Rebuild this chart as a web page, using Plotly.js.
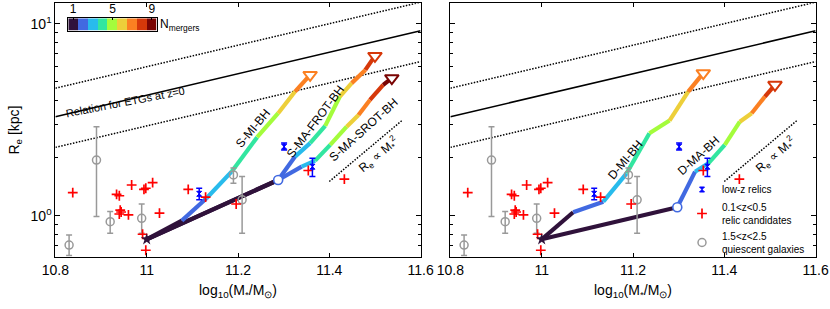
<!DOCTYPE html>
<html><head><meta charset="utf-8">
<script src="https://cdn.plot.ly/plotly-3.0.1.min.js"></script>
<style>html,body{margin:0;padding:0;background:#fff}#chart{width:830px;height:309px}</style>
</head><body><div id="chart"></div>
<script>
// ---- colours for merger number 1..9 ----
const mergerN = [1,2,3,4,5,6,7,8,9];
const mergerColors = ['#30123b','#4169e1','#28bbec','#32e6a0','#a4fc3c','#edcf3a','#fb8022','#d6380a','#7a0403'];

// ---- simulated tracks (log10 M*, Re kpc) ----
const smiX  = [11.0, 11.077, 11.131, 11.186, 11.242, 11.288, 11.325, 11.358];
const smiR  = [0.753, 0.942, 1.233, 1.696, 2.564, 3.420, 4.436, 5.420];
const frotX = [11.0, 11.288, 11.325, 11.358, 11.391, 11.423, 11.449, 11.479, 11.500];
const frotR = [0.753, 1.535, 2.032, 2.388, 2.938, 4.178, 4.909, 5.754, 6.808];
const srotX = [11.0, 11.288, 11.3395, 11.369, 11.402, 11.438, 11.464, 11.489, 11.518, 11.537];
const srotR = [0.753, 1.535, 1.801, 1.936, 2.339, 2.911, 3.350, 4.013, 4.808, 5.212];
const dmiX  = [11.0, 11.069, 11.135, 11.186, 11.236, 11.280, 11.321, 11.354];
const dmiR  = [0.753, 1.042, 1.183, 1.663, 2.692, 3.133, 4.436, 5.534];
const dmaX  = [11.0, 11.297, 11.336, 11.365, 11.401, 11.434, 11.460, 11.489, 11.511];
const dmaR  = [0.753, 1.107, 1.696, 1.875, 2.339, 3.090, 3.420, 4.178, 4.808];

// ---- reference relations ----
const etgX = [10.8, 11.6];
const etgR = [3.28, 9.20];
const etgUpR = [4.62, 12.97];
const etgLoR = [2.27, 6.36];
const m2X = [11.4, 11.561];
const m2R = [1.507, 3.16];

// ---- observations ----
const qgX  = [10.830, 10.890, 10.920, 10.989, 11.190, 11.209];
const qgR  = [0.703, 1.95, 0.93, 0.969, 1.63, 1.21];
const qgHi = [0.793, 2.91, 1.05, 1.15, 1.77, 1.60];
const qgLo = [0.62, 0.99, 0.81, 0.81, 1.476, 0.81];

const relX  = [11.115, 11.301, 11.363];
const relR  = [1.30, 2.29, 1.80];
const relHi = [1.39, 2.39, 1.99];
const relLo = [1.21, 2.20, 1.60];

const candX = [10.838, 10.934, 10.940, 10.967, 10.994, 10.998, 11.013, 10.942, 10.944, 10.940, 10.960, 11.028, 10.991, 10.998, 11.091, 11.129, 11.196, 11.354, 11.433];
const candR = [1.32, 1.29, 1.27, 1.445, 1.37, 1.39, 1.486, 1.07, 1.045, 1.02, 1.01, 1.03, 0.80, 0.66, 1.37, 1.25, 1.15, 1.72, 1.55];

const xTicks = [10.8, 11, 11.2, 11.4, 11.6];
const xTickText = ['10.8', '11', '11.2', '11.4', '11.6'];

const FONT = 'Liberation Sans, Arial, Helvetica, sans-serif';
const traces = [];

function refLines(xa, ya) {
  traces.push({x: etgX, y: etgUpR, xaxis: xa, yaxis: ya, mode: 'lines', line: {color: '#000', width: 1.5, dash: '1.5px,1.5px'}, showlegend: false, hoverinfo: 'skip'});
  traces.push({x: etgX, y: etgR, xaxis: xa, yaxis: ya, mode: 'lines', line: {color: '#000', width: 1.6}, showlegend: false, hoverinfo: 'skip'});
  traces.push({x: etgX, y: etgLoR, xaxis: xa, yaxis: ya, mode: 'lines', line: {color: '#000', width: 1.5, dash: '1.5px,1.5px'}, showlegend: false, hoverinfo: 'skip'});
  traces.push({x: m2X, y: m2R, xaxis: xa, yaxis: ya, mode: 'lines', line: {color: '#000', width: 1.5, dash: '1.5px,1.5px'}, showlegend: false, hoverinfo: 'skip'});
}

function trackSegments(X, R, xa, ya, pass) {
  for (let i = 1; i < X.length; i++) {
    if ((pass === 0 && i !== 1) || (pass === 1 && i === 1)) continue;
    traces.push({x: [X[i-1], X[i]], y: [R[i-1], R[i]], xaxis: xa, yaxis: ya, mode: 'lines',
      line: {color: mergerColors[i-1], width: 4.2}, showlegend: false, hoverinfo: 'skip'});
  }
}
function trackEnd(X, R, xa, ya, circle) {
  const n = X.length;
  traces.push({x: [X[n-1]], y: [R[n-1]], xaxis: xa, yaxis: ya, mode: 'markers',
    marker: {symbol: 'triangle-down', size: 12, color: '#fff', line: {color: mergerColors[n-2], width: 2}}, showlegend: false, hoverinfo: 'skip'});
  if (circle) {
    traces.push({x: [X[1]], y: [R[1]], xaxis: xa, yaxis: ya, mode: 'markers',
      marker: {symbol: 'circle', size: 9, color: '#fff', line: {color: mergerColors[1], width: 1.6}}, showlegend: false, hoverinfo: 'skip'});
  }
}

function observations(xa, ya, legend) {
  traces.push({x: qgX, y: qgR, xaxis: xa, yaxis: ya, mode: 'markers', name: '1.5&lt;z&lt;2.5<br>quiescent galaxies',
    marker: {symbol: 'circle-open', size: 8, color: '#999', line: {width: 1.5}},
    error_y: {type: 'data', symmetric: false, array: qgHi.map((h, i) => h - qgR[i]), arrayminus: qgLo.map((l, i) => qgR[i] - l), color: '#999', thickness: 1.5, width: 3},
    showlegend: legend, legendrank: 3});
  traces.push({x: candX, y: candR, xaxis: xa, yaxis: ya, mode: 'markers', name: '0.1&lt;z&lt;0.5<br>relic candidates',
    marker: {symbol: 'cross-thin-open', size: 7, color: '#ff0000', line: {width: 1.7, color: '#ff0000'}},
    showlegend: legend, legendrank: 2});
  traces.push({x: relX, y: relR, xaxis: xa, yaxis: ya, mode: 'markers', name: 'low-z relics',
    marker: {symbol: 'hourglass', size: 5, color: '#0000ff', line: {width: 1, color: '#0000ff'}},
    error_y: {type: 'data', symmetric: false, array: relHi.map((h, i) => h - relR[i]), arrayminus: relLo.map((l, i) => relR[i] - l), color: '#0000ff', thickness: 1.5, width: 3},
    showlegend: legend, legendrank: 1});
}

function star(xa, ya) {
  traces.push({x: [smiX[0]], y: [smiR[0]], xaxis: xa, yaxis: ya, mode: 'markers',
    marker: {symbol: 'star', size: 9, color: mergerColors[0]}, showlegend: false, hoverinfo: 'skip'});
}

// left panel
refLines('x', 'y');
[[smiX, smiR], [frotX, frotR], [srotX, srotR]].forEach(t => trackSegments(t[0], t[1], 'x', 'y', 0));
[[smiX, smiR], [frotX, frotR], [srotX, srotR]].forEach(t => trackSegments(t[0], t[1], 'x', 'y', 1));
observations('x', 'y', false);
trackEnd(smiX, smiR, 'x', 'y', false);
trackEnd(frotX, frotR, 'x', 'y', true);
trackEnd(srotX, srotR, 'x', 'y', false);
star('x', 'y');

// right panel
refLines('x2', 'y2');
[[dmiX, dmiR], [dmaX, dmaR]].forEach(t => trackSegments(t[0], t[1], 'x2', 'y2', 0));
[[dmiX, dmiR], [dmaX, dmaR]].forEach(t => trackSegments(t[0], t[1], 'x2', 'y2', 1));
observations('x2', 'y2', true);
trackEnd(dmiX, dmiR, 'x2', 'y2', false);
trackEnd(dmaX, dmaR, 'x2', 'y2', true);
star('x2', 'y2');

// discrete colour bar
traces.push({type: 'heatmap', x: mergerN, y: [0], z: [mergerN], xaxis: 'x3', yaxis: 'y3', zmin: 1, zmax: 9,
  colorscale: mergerColors.map((c, i) => [i / 8, c]), showscale: false, hoverinfo: 'skip'});

const yRange = [Math.log10(0.611), Math.log10(12.8)];
const xDomL = [55.4 / 830, 420.6 / 830];
const xDomR = [450.4 / 830, 815.6 / 830];
const yDom = [1 - 256.7 / 309, 1 - 3.3 / 309];

function xaxis(dom, anchor) {
  return {domain: dom, anchor: anchor, range: [10.8, 11.6], tickvals: xTicks, ticktext: xTickText,
    ticks: 'inside', ticklen: 4, tickcolor: '#000', showline: true, linecolor: '#000', linewidth: 1, mirror: 'ticks',
    showgrid: false, zeroline: false, tickfont: {size: 14, color: '#000'},
    title: {text: 'log<sub>10</sub>(M<sub>*</sub>/M<sub>⊙</sub>)', font: {size: 14, color: '#000'}, standoff: 8}};
}
function yaxis(anchor, labels) {
  return {domain: yDom, anchor: anchor, type: 'log', range: yRange, tickvals: [1, 10], ticktext: ['10<sup>0</sup>', '10<sup>1</sup>'],
    ticks: 'inside', ticklen: 5, tickcolor: '#000', showline: true, linecolor: '#000', linewidth: 1, mirror: 'ticks',
    minor: {tickvals: [0.7, 0.8, 0.9, 2, 3, 4, 5, 6, 7, 8, 9], ticks: 'inside', ticklen: 3, tickcolor: '#000', showgrid: false},
    showgrid: false, zeroline: false, showticklabels: labels, tickfont: {size: 14, color: '#000'},
    title: labels ? {text: 'R<sub>e</sub> [kpc]', font: {size: 14, color: '#000'}, standoff: 7} : {text: ''}};
}

function ann(text, xr, yr, x, yR, angle, size) {
  return {text: text, xref: xr, yref: yr, x: x, y: Math.log10(yR), textangle: angle, showarrow: false,
    font: {size: size || 12, color: '#000', family: FONT}, xanchor: 'center', yanchor: 'middle'};
}

const layout = {
  width: 830, height: 309, margin: {l: 0, r: 0, t: 0, b: 0},
  paper_bgcolor: '#fff', plot_bgcolor: '#fff',
  font: {family: FONT, color: '#000'},
  xaxis: xaxis(xDomL, 'y'), yaxis: yaxis('x', true),
  xaxis2: xaxis(xDomR, 'y2'), yaxis2: yaxis('x2', false),
  xaxis3: {domain: [68.3 / 830, 156.7 / 830], anchor: 'y3', range: [0.5, 9.5], side: 'top', tickvals: [1, 5, 9],
    ticks: 'inside', ticklen: 2, tickcolor: '#000', showline: true, mirror: true, linecolor: '#000', linewidth: 1,
    showgrid: false, zeroline: false, tickfont: {size: 12, color: '#000'}, fixedrange: true},
  yaxis3: {domain: [1 - 30.7 / 309, 1 - 18.3 / 309], anchor: 'x3', range: [-0.5, 0.5], showticklabels: false, ticks: '',
    showline: true, mirror: true, linecolor: '#000', linewidth: 1, showgrid: false, zeroline: false, fixedrange: true},
  showlegend: true,
  legend: {x: 682 / 830, y: 1 - 175 / 309, xanchor: 'left', yanchor: 'top', bgcolor: 'rgba(0,0,0,0)',
    font: {size: 10, color: '#000'}, itemwidth: 30, tracegroupgap: 0, traceorder: 'normal'},
  annotations: [
    ann('Relation for ETGs at z=0', 'x', 'y', 10.9525, 3.90, -11, 11),
    ann('S-MI-BH', 'x', 'y', 11.2335, 2.858, -50),
    ann('S-MA-FROT-BH', 'x', 'y', 11.3687, 3.09, -53),
    ann('S-MA-SROT-BH', 'x', 'y', 11.4745, 2.80, -42),
    ann('R<sub>e</sub> ∝ M<sub>*</sub><sup>2</sup>', 'x', 'y', 11.5067, 2.073, -40),
    ann('D-MI-BH', 'x2', 'y2', 11.1829, 1.953, -50),
    ann('D-MA-BH', 'x2', 'y2', 11.3428, 2.046, -42),
    ann('R<sub>e</sub> ∝ M<sub>*</sub><sup>2</sup>', 'x2', 'y2', 11.5112, 2.073, -40),
    {text: 'N<sub>mergers</sub>', xref: 'paper', yref: 'paper', x: 158 / 830, y: 1 - 25 / 309, xanchor: 'left', yanchor: 'middle',
      showarrow: false, font: {size: 12, color: '#000', family: FONT}}
  ]
};

Plotly.newPlot('chart', traces, layout, {staticPlot: true, displayModeBar: false});
</script></body></html>
